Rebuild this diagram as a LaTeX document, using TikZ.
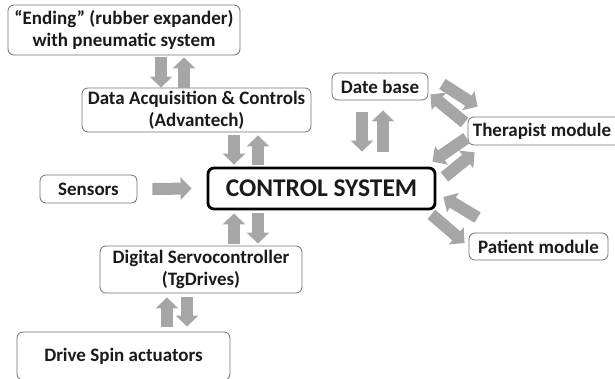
\documentclass[tikz,border=0pt]{standalone}
\usepackage{fontspec}
\setmainfont{Carlito}
\usetikzlibrary{arrows.meta,calc}
\definecolor{boxline}{HTML}{707070}
\definecolor{arrowfill}{HTML}{A6A6A6}
\definecolor{ink}{HTML}{1A1A1A}
\begin{document}
\begin{tikzpicture}[x=1pt,y=-1pt,
  box/.style={draw=boxline, line width=0.8pt, rounded corners=6pt, inner sep=0pt,
    align=center, text=ink, font=\fontsize{19}{22}\selectfont\bfseries},
  mainbox/.style={box, draw=black, line width=2.8pt, font=\fontsize{25.5}{30}\selectfont\bfseries},
  blk/.style={draw=arrowfill, line width=12pt, -{Triangle[width=22pt,length=11pt]}}]
\useasboundingbox (0,0) rectangle (615,378);
\clip (0,0) rectangle (615,378);

% boxes
\node[box, minimum width=232pt, minimum height=50pt] (ending) at (124,30)
  {“Ending” (rubber expander)\\with pneumatic system};
\node[box, minimum width=229pt, minimum height=44pt] (acq) at (196.5,110)
  {Data Acquisition \& Controls\\(Advantech)};
\node[box, minimum width=96pt, minimum height=27pt] (db) at (380,86.5) {Date base};
\node[box, minimum width=160pt, minimum height=28pt] (therapist) at (548,131) {\hspace*{-12pt}Therapist module};
\node[box, minimum width=139pt, minimum height=27pt] (patient) at (538.5,246.5) {Patient module};
\node[mainbox, minimum width=227pt, minimum height=41pt] (control) at (321.5,188.5) {CONTROL SYSTEM};
\node[box, minimum width=97pt, minimum height=28pt] (sensors) at (88.5,189) {Sensors};
\node[box, minimum width=202pt, minimum height=47pt] (servo) at (201,269.5)
  {Digital Servocontroller\\(TgDrives)};
\node[box, minimum width=213pt, minimum height=48pt] (drive) at (123.5,356) {Drive Spin actuators};

% ending <-> data acquisition
\draw[blk, shorten <=2pt] (161,0 |- ending.south) -- (161,0 |- acq.north);
\draw[blk, shorten >=2pt] (184,0 |- acq.north) -- (184,0 |- ending.south);
% data acquisition <-> control system
\draw[blk, shorten <=3pt, shorten >=2pt] (234,0 |- acq.south) -- (234,0 |- control.north);
\draw[blk, shorten <=2pt, shorten >=3pt] (258,0 |- control.north) -- (258,0 |- acq.south);
% sensors -> control system
\draw[blk] ([xshift=15pt]sensors.east) -- ([xshift=-15pt]control.west);
% control system <-> servocontroller
\draw[blk, shorten <=2pt, shorten >=3pt] (234,0 |- servo.north) -- (234,0 |- control.south);
\draw[blk, shorten <=3pt, shorten >=2pt] (258,0 |- control.south) -- (258,0 |- servo.north);
% servocontroller <-> drive actuators
\draw[blk, shorten <=5pt, shorten >=4pt] (167,0 |- drive.north) -- (167,0 |- servo.south);
\draw[blk, shorten <=4pt, shorten >=5pt] (187,0 |- servo.south) -- (187,0 |- drive.north);
% data base <-> control system
\draw[blk, shorten <=12pt, shorten >=15pt] (362,0 |- db.south) -- (362,0 |- control.north);
\draw[blk, shorten <=15pt, shorten >=10pt] (383,0 |- control.north) -- (383,0 |- db.south);
% data base <-> therapist module
\draw[blk] ($(db.east)+(14,-2.5)$) -- ($(therapist.north west)+(10,-10)$);
\draw[blk] ($(therapist.north west)+(-3,6)$) -- ($(db.south east)+(2,-6)$);
% therapist module <-> control system
\draw[blk] ($(therapist.west)+(-1,7)$) -- ($(control.north east)+(-4,-5)$);
\draw[blk] ($(control.east)+(8,-11.5)$) -- ($(therapist.south west)+(7,7)$);
% patient module <-> control system
\draw[blk] ($(patient.north west)+(9,-15)$) -- ($(control.east)+(7,8.5)$);
\draw[blk] ($(control.south east)+(-5,4)$) -- ($(patient.west)+(-4,-3.5)$);
\end{tikzpicture}
\end{document}
